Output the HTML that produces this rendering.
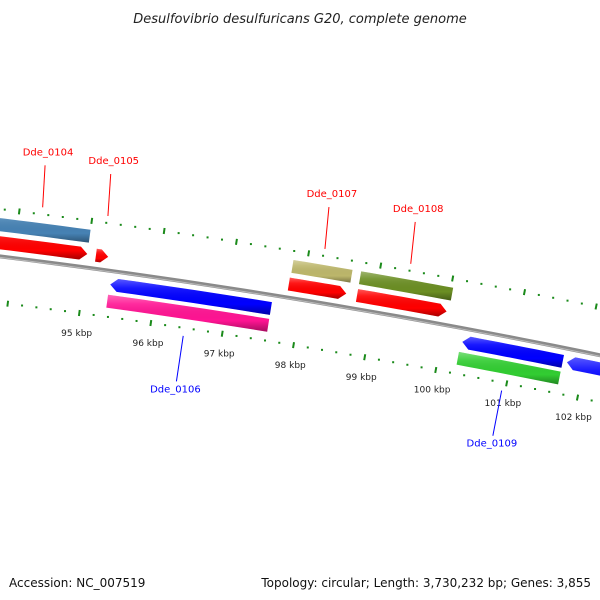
<!DOCTYPE html>
<html><head><meta charset="utf-8"><style>
html,body{margin:0;padding:0;background:#fff}
svg{display:block}
</style></head><body>
<svg id="chart" width="600" height="600" viewBox="0 0 600 600" xmlns="http://www.w3.org/2000/svg">
<defs>
 <linearGradient id="shade" x1="0" y1="0" x2="0" y2="1">
  <stop offset="0" stop-color="#fff" stop-opacity="0.35"/>
  <stop offset="0.25" stop-color="#fff" stop-opacity="0.1"/>
  <stop offset="0.7" stop-color="#000" stop-opacity="0"/>
  <stop offset="1" stop-color="#000" stop-opacity="0.35"/>
 </linearGradient>
</defs>
<text x="300" y="23" text-anchor="middle" font-family="DejaVu Sans, Liberation Sans, sans-serif" font-style="italic" font-size="13" fill="#222">Desulfovibrio desulfuricans G20, complete genome</text>
<g id="map"></g>
<text x="9" y="587" font-family="DejaVu Sans, Liberation Sans, sans-serif" font-size="12" fill="#111">Accession: NC_007519</text>
<text x="591" y="587" text-anchor="end" font-family="DejaVu Sans, Liberation Sans, sans-serif" font-size="12" fill="#111">Topology: circular; Length: 3,730,232 bp; Genes: 3,855</text>
</svg>
<script>
// data
const geneStarts = [93.0, 93.0, 95.12, 95.37, 95.36, 97.81, 97.80, 98.75, 98.75, 100.29, 100.27, 101.76];
const geneEnds   = [95.0, 95.0, 95.29, 97.61, 97.61, 98.63, 98.60, 100.03, 100.0, 101.70, 101.70, 104.5];
const geneStrand = [1, 1, 1, -1, -1, 1, 1, 1, 1, -1, -1, -1];
const geneTrack  = ['outer','inner','inner','inner','outer','outer','inner','outer','inner','inner','outer','inner'];
const geneArrow  = [false, true, true, true, false, false, true, false, true, true, false, true];
const geneColor  = ['#4682b4','#ff0000','#ff0000','#0000ff','#ff1493','#bdb76b','#ff0000','#6b8e23','#ff0000','#0000ff','#32cd32','#0000ff'];
const geneNames  = ['Dde_0104','Dde_0104','Dde_0105','Dde_0106','Dde_0106','Dde_0107','Dde_0107','Dde_0108','Dde_0108','Dde_0109','Dde_0109','next-gene'];
const tickLabels = [95, 96, 97, 98, 99, 100, 101, 102];
const labelNames = ['Dde_0104','Dde_0105','Dde_0107','Dde_0108','Dde_0106','Dde_0109'];
const labelKb    = [94.31, 95.21, 98.21, 99.40, 96.47, 100.95];
const labelStrand= [1, 1, 1, 1, -1, -1];

// geometry
const CX=-918, CY=7700, R0=7500;
const PHI95=0.1342, DPHI=0.009686;
function phi(kb){return PHI95+(kb-95)*DPHI;}
function pt(kb,r){const p=phi(kb);return [CX+r*Math.sin(p), CY-r*Math.cos(p)];}
const NS='http://www.w3.org/2000/svg';
const g=document.getElementById('map');
function mk(tag,attrs){const e=document.createElementNS(NS,tag);for(const k in attrs)e.setAttribute(k,attrs[k]);g.appendChild(e);return e;}
function arcPts(a,b,r,n){const o=[];for(let i=0;i<=n;i++){o.push(pt(a+(b-a)*i/n,r));}return o;}

// backbone
const bb=arcPts(92,105,R0,30).map(p=>p.join(',')).join(' ');
let e=mk('polyline',{points:bb,fill:'none',stroke:'#8a8a8a','stroke-width':4});


e=mk('polyline',{points:arcPts(92,105,R0-1,30).map(p=>p.join(',')).join(' '),fill:'none',stroke:'#bbb','stroke-width':1});



// ticks
for(let i=0;i<=60;i++){
  const kb=93.4+i*0.2; const major=Math.abs(kb-Math.round(kb))<0.01;
  [7547,7454].forEach(r=>{
    let el;
    if(major){const a=pt(kb,r-3),b=pt(kb,r+3);el=mk('line',{x1:a[0],y1:a[1],x2:b[0],y2:b[1],stroke:'#1a8a1a','stroke-width':2});}
    else{const a=pt(kb,r);el=mk('rect',{x:a[0]-1,y:a[1]-1,width:2,height:2,fill:'#1a8a1a'});}
    
    
  });
}
tickLabels.forEach(kb=>{
  const p=pt(kb,7434);
  const t=mk('text',{x:p[0],y:p[1]+3,'text-anchor':'middle','font-family':'DejaVu Sans, Liberation Sans, sans-serif','font-size':9,fill:'#222'});
  t.textContent=kb+' kbp';
  
  
});

// genes
const trackR={1:{outer:[7525,7538],inner:[7507,7520]},'-1':{inner:[7480,7493],outer:[7463,7476]}};
for(let i=0;i<geneStarts.length;i++){
  const [r1,r2]=trackR[geneStrand[i]][geneTrack[i]];
  let a=geneStarts[i],b=geneEnds[i];const rm=(r1+r2)/2;const head=0.1;
  let pts;
  if(!geneArrow[i]){pts=arcPts(a,b,r2,10).concat(arcPts(b,a,r1,10));}
  else if(geneStrand[i]>0){const hb=Math.max(a,b-head);pts=arcPts(a,hb,r2,10).concat([pt(b,rm)]).concat(arcPts(hb,a,r1,10));}
  else{const ha=Math.min(b,a+head);pts=[pt(a,rm)].concat(arcPts(ha,b,r2,10)).concat(arcPts(b,ha,r1,10));}
  const s=pts.map(p=>p.join(',')).join(' ');
  let el=mk('polygon',{points:s,fill:geneColor[i]});
  
  
  el=mk('polygon',{points:s,fill:'url(#shade)'});
  
  
}

// labels
for(let i=0;i<labelNames.length;i++){
  const up=labelStrand[i]>0; const col=up?'#ff0000':'#0000ff';
  const a=pt(labelKb[i],up?7554:7446), b=pt(labelKb[i]-(up?0.04:0),up?7596:7400);
  let el=mk('line',{x1:a[0],y1:a[1],x2:b[0],y2:b[1],stroke:col,'stroke-width':1});
  
  
  const t=mk('text',{x:b[0]+(up?3:-1),y:up?b[1]-10:b[1]+11,'text-anchor':'middle','font-family':'DejaVu Sans, Liberation Sans, sans-serif','font-size':10,fill:col});
  t.textContent=labelNames[i];
  
  
}
</script>
</body></html>
